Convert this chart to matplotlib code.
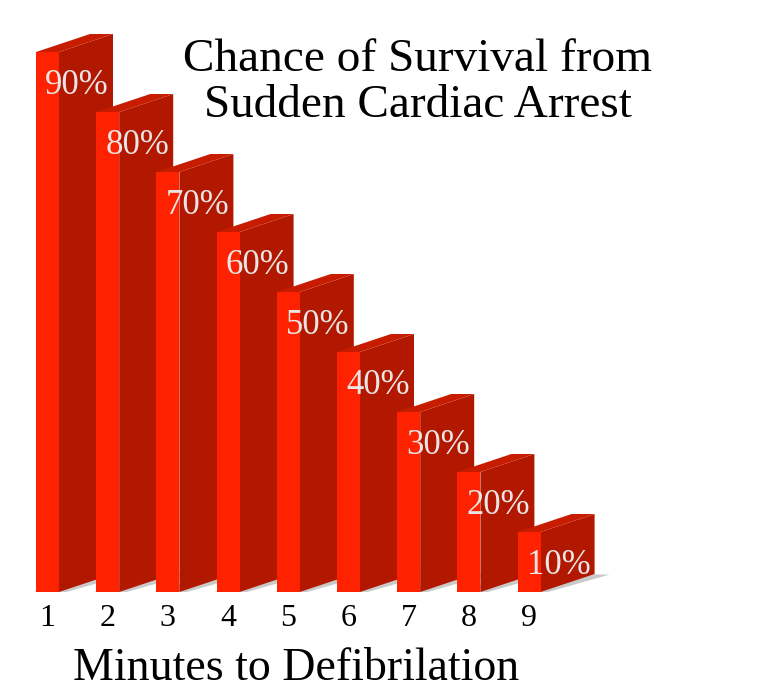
import matplotlib.pyplot as plt
from matplotlib.patches import Polygon

# Data
minutes = [1, 2, 3, 4, 5, 6, 7, 8, 9]
survival = [90, 80, 70, 60, 50, 40, 30, 20, 10]
labels = [f"{v}%" for v in survival]

FRONT = "#ff2200"
SIDE = "#b21800"
TOP = "#c81c00"
SHADOW = "#cacaca"
LABEL = "#ebe6e6"

plt.rcParams["font.family"] = ["Liberation Serif", "DejaVu Serif"]

fig = plt.figure(figsize=(7.77, 6.97), dpi=100, facecolor="white")
ax = fig.add_axes([0, 105 / 697, 1, 592 / 697])
ax.set_xlim(0.211, 13.118)
ax.set_ylim(0, 98.67)

width = 0.382   # front face width (x units)
dx = 0.897      # depth offset in x
dy = 3.0        # depth offset in y (%)

for k, (m, v) in enumerate(zip(minutes, survival)):
    x0 = m - width / 2
    x1 = m + width / 2
    z = 2 + k * 0.1
    # floor shadow
    ax.add_patch(Polygon([(x0 - 0.16, -0.35), (x1, -0.35),
                          (x1 + dx + 0.25, dy - 0.1), (x0 + dx + 0.1, dy)],
                         closed=True, facecolor=SHADOW, edgecolor="none", zorder=z))
    # side face
    ax.add_patch(Polygon([(x1, 0), (x1 + dx, dy), (x1 + dx, v + dy), (x1, v)],
                         closed=True, facecolor=SIDE, edgecolor="none", zorder=z + 0.01))
    # top face
    ax.add_patch(Polygon([(x0, v), (x1, v), (x1 + dx, v + dy), (x0 + dx, v + dy)],
                         closed=True, facecolor=TOP, edgecolor="none", zorder=z + 0.02))
    # front face
    ax.bar(m, v, width=width, color=FRONT, edgecolor="none", zorder=z + 0.03)

for m, v, lab in zip(minutes, survival, labels):
    ax.text(m + 0.49, v - 5.6, lab, ha="center", va="center", fontsize=25,
            color=LABEL, zorder=10)

for s in ax.spines.values():
    s.set_visible(False)
ax.set_yticks([])
ax.set_xticks(minutes)
ax.set_xticklabels([str(m) for m in minutes], fontsize=23)
ax.tick_params(axis="x", length=0, pad=9)

fig.text(418 / 777, 1 - 117 / 697, "Chance of Survival from\nSudden Cardiac Arrest",
         ha="center", va="baseline", fontsize=34, linespacing=1.1)
fig.text(296 / 777, 17 / 697, "Minutes to Defibrilation", ha="center",
         va="baseline", fontsize=33)

fig.savefig("out.png", dpi=100, facecolor="white")
